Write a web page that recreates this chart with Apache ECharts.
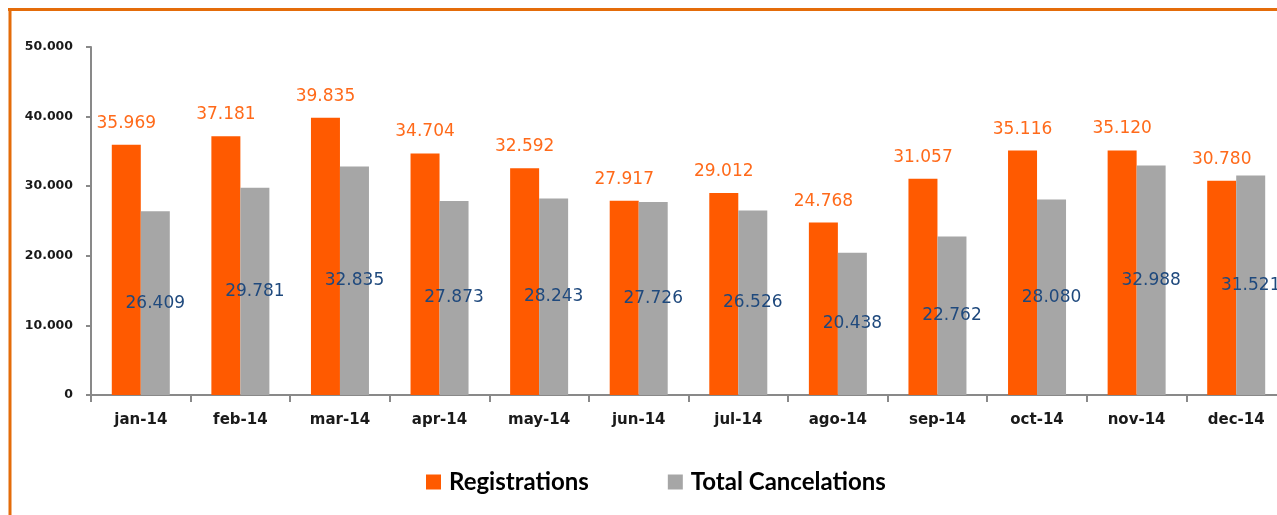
<!DOCTYPE html>
<html>
<head>
<meta charset="utf-8">
<script src="https://cdn.jsdelivr.net/npm/echarts@6/dist/echarts.min.js"></script>
<style>
html,body{margin:0;padding:0;background:#fff;}
#chart{width:1277px;height:515px;}
</style>
</head>
<body>
<div id="chart"></div>
<script>
var categories = ['jan-14','feb-14','mar-14','apr-14','may-14','jun-14','jul-14','ago-14','sep-14','oct-14','nov-14','dec-14'];
var registrations = [35969, 37181, 39835, 34704, 32592, 27917, 29012, 24768, 31057, 35116, 35120, 30780];
var cancelations = [26409, 29781, 32835, 27873, 28243, 27726, 26526, 20438, 22762, 28080, 32988, 31521];
var yTicks = [0, 10000, 20000, 30000, 40000, 50000];

function fmt(v){ return String(v).replace(/\B(?=(\d{3})+(?!\d))/g, '.'); }

var chart = echarts.init(document.getElementById('chart'));
chart.setOption({
  animation: false,
  backgroundColor: '#ffffff',
  graphic: [
    {type:'line', shape:{x1:8, y1:9.5, x2:1277, y2:9.5}, style:{stroke:'#E46C0A', lineWidth:3}},
    {type:'line', shape:{x1:10, y1:8, x2:10, y2:515}, style:{stroke:'#E46C0A', lineWidth:3}}
  ],
  grid: {left: 91, top: 47, width: 1195, height: 348, outerBoundsMode: 'none', containLabel: false},
  legend: {
    left: 426, top: 470, padding: 0,
    itemWidth: 15, itemHeight: 15, itemGap: 79,
    icon: 'rect',
    textStyle: {fontFamily: 'Lato', fontWeight: 'bold', fontSize: 24, color: '#000', padding: [0,0,0,3]},
    data: ['Registrations', 'Total Cancelations']
  },
  xAxis: {
    type: 'category',
    data: categories,
    axisLine: {lineStyle: {color: '#898989', width: 2}},
    axisTick: {show: true, length: 7, lineStyle: {color: '#898989', width: 2}},
    axisLabel: {margin: 18, fontFamily: 'DejaVu Sans', fontWeight: 'bold', fontSize: 15, color: '#1a1a1a'}
  },
  yAxis: {
    type: 'value',
    min: yTicks[0], max: yTicks[yTicks.length-1], interval: 10000,
    axisLine: {show: true, lineStyle: {color: '#898989', width: 2}},
    axisTick: {show: true, length: 5, lineStyle: {color: '#898989', width: 2}},
    splitLine: {show: false},
    axisLabel: {margin: 18, fontFamily: 'DejaVu Sans', fontWeight: 'bold', fontSize: 12.5, color: '#1a1a1a', formatter: fmt}
  },
  series: [
    {
      name: 'Registrations', type: 'bar', data: registrations,
      barWidth: 29, barGap: '0%',
      itemStyle: {color: '#FF5A00'},
      label: {show: true, position: 'top', distance: 13, fontFamily: 'DejaVu Sans', fontSize: 17, color: '#FF6A1A',
        formatter: function(p){ return fmt(p.value); }}
    },
    {
      name: 'Total Cancelations', type: 'bar', data: cancelations,
      barWidth: 29, barGap: '0%',
      itemStyle: {color: '#A6A6A6'},
      label: {show: true, position: 'inside', fontFamily: 'DejaVu Sans', fontSize: 17, color: '#1F497D',
        formatter: function(p){ return fmt(p.value); }}
    }
  ]
});
</script>
</body>
</html>
